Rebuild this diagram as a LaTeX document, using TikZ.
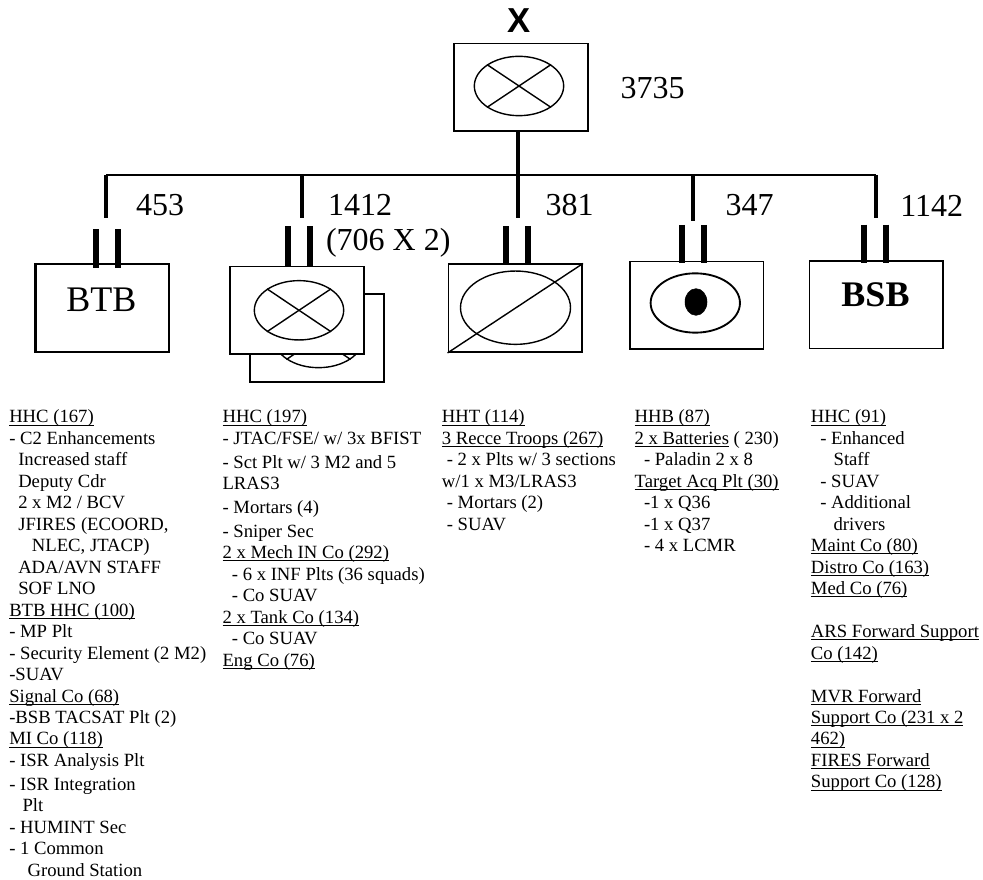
\documentclass[tikz,border=0pt]{standalone}
\usepackage{fontspec}
\setmainfont{Liberation Serif}
\newfontfamily\echelonfont{Liberation Sans}
\usetikzlibrary{calc,positioning,shapes.geometric}

\newcommand{\subunit}[1]{\underline{\smash{#1}}}

\tikzset{
  unitbox/.style={draw,fill=white,line width=1.3pt,minimum width=100.3pt,minimum height=65.8pt,inner sep=0pt},
  emblem/.style={draw,ellipse,line width=1.05pt,minimum width=67pt,minimum height=44.5pt,inner sep=0pt},
  crossline/.style={line width=1.05pt},
  link/.style={line width=1.7pt},
  dropline/.style={line width=3pt},
  bar/.style={line width=4.5pt},
  strength/.style={font=\fontsize{24}{28}\selectfont,inner sep=0pt},
  roster/.style={anchor=north west,align=left,inner sep=0pt,font=\fontsize{14}{16.1}\selectfont}
}

\begin{document}
\begin{tikzpicture}[x=0.75pt,y=-0.75pt]
  \useasboundingbox (0,0) rectangle (983,880);

  \node[font=\echelonfont\bfseries\fontsize{26}{30}\selectfont,inner sep=0pt] (ech) at (519.3,20.8) {X};
  \node[unitbox] (bde) at (520.8,87.3) {};
  \node[emblem] (bdeem) at (519,86) {};
  \draw[crossline] (bdeem.north west) -- (bdeem.south east);
  \draw[crossline] (bdeem.north east) -- (bdeem.south west);
  \node[strength] (bdeno) at (652.5,87.7) {3735};

  \coordinate (busc) at (518,175);
  \coordinate (busa) at (106,175);
  \coordinate (busb) at (301.7,175);
  \coordinate (busd) at (693.3,175);
  \coordinate (buse) at (876,175);
  \coordinate (enda) at (106,218.3);
  \coordinate (endb) at (301.7,218.3);
  \coordinate (endc) at (518,218.3);
  \coordinate (endd) at (693.3,220.7);
  \coordinate (ende) at (876,218.3);
  \draw[dropline] (bde.south -| busc) -- (busc);
  \draw[link] (busa) -- (buse);
  \draw[dropline] (busa) -- (enda);
  \draw[dropline] (busb) -- (endb);
  \draw[dropline] (busc) -- (endc);
  \draw[dropline] (busd) -- (endd);
  \draw[dropline] (buse) -- (ende);

  \node[unitbox,line width=1.6pt] (btb) at (102.3,308) {};
  \node[font=\fontsize{27}{30}\selectfont,inner sep=0pt] (btbname) at (101.3,299.5) {BTB};
  \node[unitbox] (cabback) at (317,338) {};
  \node[emblem] (cabbackem) at (318.5,338) {};
  \draw[crossline] (cabbackem.north west) -- (cabbackem.south east);
  \draw[crossline] (cabbackem.north east) -- (cabbackem.south west);
  \node[unitbox] (cab) at (297.2,310.5) {};
  \node[emblem] (cabem) at (299,310.3) {};
  \draw[crossline] (cabem.north west) -- (cabem.south east);
  \draw[crossline] (cabem.north east) -- (cabem.south west);
  \node[unitbox] (ars) at (515.3,308.2) {};
  \node[emblem,minimum width=82.5pt,minimum height=55pt] (arsem) at (515.5,307.7) {};
  \draw[crossline] (ars.south west) -- (ars.north east);
  \node[unitbox] (fa) at (696.5,305.5) {};
  \node[emblem,line width=1.4pt] (faem) at (695.3,303) {};
  \node[draw,fill,ellipse,minimum width=16.5pt,minimum height=20pt,inner sep=0pt] (fadot) at (696,302) {};
  \node[unitbox] (bsb) at (876.3,304.7) {};
  \node[font=\bfseries\fontsize{27}{30}\selectfont,inner sep=0pt] (bsbname) at (875.5,295) {BSB};

  \foreach \unit/\lt/\rt/\rise/\sink in {btb/-6.3/15.7/33.6/4.7,cab/-9.2/12.8/39.6/0,ars/-9.3/12.7/37.3/1,fa/-14.5/7.5/36/2.3,bsb/-12.3/9.7/35.3/3}{
    \draw[bar] ($(\unit.north)+(\lt,-\rise)$) -- ($(\unit.north)+(\lt,\sink)$);
    \draw[bar] ($(\unit.north)+(\rt,-\rise)$) -- ($(\unit.north)+(\rt,\sink)$);
  }

  \node[strength] (btbno) at (160,205.3) {453};
  \node[strength] (cabno) at (360,205) {1412};
  \node[strength] (cabmul) at (388.3,242.7) {(706 X 2)};
  \node[strength] (arsno) at (569.7,205.5) {381};
  \node[strength] (fano) at (749.5,205.5) {347};
  \node[strength] (bsbno) at (931.7,205.5) {1142};

  \node[roster] (btblist) at (9,422.7) {\subunit{HHC (167)}\\
    - C2 Enhancements\\
    \hspace*{6.75pt}Increased staff\\
    \hspace*{6.75pt}Deputy Cdr\\
    \hspace*{6.75pt}2 x M2 / BCV\\
    \hspace*{6.75pt}JFIRES (ECOORD,\\
    \hspace*{17pt}NLEC, JTACP)\\
    \hspace*{6.75pt}ADA/AVN STAFF\\
    \hspace*{6.75pt}SOF LNO\\
    \subunit{BTB HHC (100)}\\
    - MP Plt\\
    - Security Element (2 M2)\\
    -SUAV\\
    \subunit{Signal Co (68)}\\
    -BSB TACSAT Plt (2)\\
    \subunit{MI Co (118)}\\
    - ISR Analysis Plt\\[1.9pt]
    - ISR Integration\\
    \hspace*{10pt}Plt\\
    - HUMINT Sec\\
    - 1 Common\\
    \hspace*{13.8pt}Ground Station};

  \node[roster] (cablist) at (222.3,422.7) {\subunit{HHC (197)}\\
    - JTAC/FSE/ w/ 3x BFIST\\[1.7pt]
    - Sct Plt w/ 3 M2 and 5\\
    LRAS3\\[1.9pt]
    - Mortars (4)\\[1.7pt]
    - Sniper Sec\\
    \subunit{2 x Mech IN Co (292)}\\
    \hspace*{7pt}- 6 x INF Plts (36 squads)\\
    \hspace*{7pt}- Co SUAV\\
    \subunit{2 x Tank Co (134)}\\
    \hspace*{7pt}- Co SUAV\\
    \subunit{Eng Co (76)}};

  \node[roster] (arslist) at (441.6,422.7) {\subunit{HHT (114)}\\
    \subunit{3 Recce Troops (267)}\\
    \hspace*{3.7pt}- 2 x Plts w/ 3 sections\\
    w/1 x M3/LRAS3\\
    \hspace*{3.7pt}- Mortars (2)\\
    \hspace*{3.7pt}- SUAV};

  \node[roster] (falist) at (634.4,422.7) {\subunit{HHB (87)}\\
    \subunit{2 x Batteries} ( 230)\\
    \hspace*{7pt}- Paladin 2 x 8\\
    \subunit{Target Acq Plt (30)}\\
    \hspace*{7pt}-1 x Q36\\
    \hspace*{7pt}-1 x Q37\\
    \hspace*{7pt}- 4 x LCMR};

  \node[roster] (bsblist) at (810.7,422.7) {\subunit{HHC (91)}\\
    \hspace*{7pt}- Enhanced\\
    \hspace*{17pt}Staff\\
    \hspace*{7pt}- SUAV\\
    \hspace*{7pt}- Additional\\
    \hspace*{17pt}drivers\\
    \subunit{Maint Co (80)}\\
    \subunit{Distro Co (163)}\\
    \subunit{Med Co (76)}\\[16.1pt]
    \subunit{ARS Forward Support}\\
    \subunit{Co (142)}\\[16.1pt]
    \subunit{MVR Forward}\\
    \subunit{Support Co (231 x 2}\\
    \subunit{462)}\\
    \subunit{FIRES Forward}\\
    \subunit{Support Co (128)}};
\end{tikzpicture}
\end{document}
